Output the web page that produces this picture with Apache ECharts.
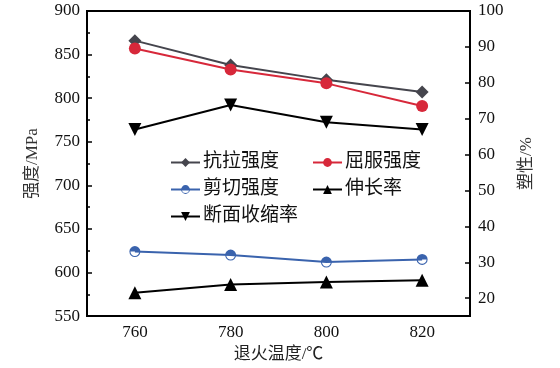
<!DOCTYPE html>
<html><head><meta charset="utf-8">
<script src="https://cdn.jsdelivr.net/npm/echarts@6/dist/echarts.min.js"></script>
<style>html,body{margin:0;padding:0;background:#fff}#c{width:560px;height:368px}</style>
</head><body><div id="c"></div>
<script>
const temps = [760, 780, 800, 820];
const xTicks = [760, 780, 800, 820];
const tensile = [866, 838, 821, 807];
const yieldS = [857, 833, 817, 791];
const shear = [624, 620, 612, 615];
const elong = [21.5, 23.8, 24.5, 25.0];
const reduction = [67, 73.8, 69, 67];
const rightTicks = [20, 30, 40, 50, 60, 70, 80, 90, 100];

const pairs = a => temps.map((t, i) => [t, a[i]]);
const font = '"Liberation Serif","Noto Sans CJK SC",serif';
const halfCircle = 'path://M0,10A10,10 0 1,1 20,10A10,10 0 1,1 0,10Z M2,10A8,8 0 1,0 18,10A8,8 0 1,0 2,10Z M2,10A8,8 0 0,1 18,10Z';

const mk = (name, data, color, symbol, size, yAxisIndex) => ({
  name, type: 'line', data: pairs(data), yAxisIndex,
  symbol, symbolSize: size, symbolKeepAspect: true,
  lineStyle: { color, width: 2 }, itemStyle: { color, borderWidth: 0 },
  emphasis: { disabled: true }, animation: false
});

const chart = echarts.init(document.getElementById('c'));
chart.setOption({
  animation: false,
  grid: { left: 87, right: 90, top: 11, bottom: 51, show: true, borderColor: '#000', borderWidth: 2 },
  xAxis: {
    type: 'value', min: 750, max: 830,
    name: '退火温度/℃', nameLocation: 'middle', nameGap: 27,
    nameTextStyle: { fontFamily: font, fontSize: 17, color: '#222' },
    axisLine: { lineStyle: { color: '#000', width: 2 } },
    axisTick: { show: false },
    axisLabel: { customValues: xTicks, fontFamily: font, fontSize: 17, color: '#111', margin: 8 },
    splitLine: { show: false }
  },
  yAxis: [{
    type: 'value', min: 550, max: 900, interval: 50, position: 'left',
    name: '强度/MPa', nameLocation: 'middle', nameGap: 46, nameRotate: 90,
    nameTextStyle: { fontFamily: font, fontSize: 17, color: '#333' },
    axisLine: { show: true, lineStyle: { color: '#000', width: 2 } },
    axisTick: { show: true, inside: true, length: 5, lineStyle: { color: '#000', width: 1.5 } },
    minorTick: { show: true, splitNumber: 2, length: 3, lineStyle: { color: '#000', width: 1.5 } },
    axisLabel: { fontFamily: font, fontSize: 17, color: '#111', margin: 7 },
    splitLine: { show: false }
  }, {
    type: 'value', min: 15, max: 100, position: 'right',
    name: '塑性/%', nameLocation: 'middle', nameGap: 48, nameRotate: 90,
    nameTextStyle: { fontFamily: font, fontSize: 17, color: '#333' },
    axisLine: { show: true, lineStyle: { color: '#000', width: 2 } },
    axisTick: { show: true, inside: true, length: 5, customValues: rightTicks.slice(0, -1), lineStyle: { color: '#000', width: 1.5 } },
    axisLabel: { customValues: rightTicks, fontFamily: font, fontSize: 17, color: '#111', margin: 8 },
    splitLine: { show: false }
  }],
  legend: [{
    data: ['抗拉强度', '剪切强度', '断面收缩率'], orient: 'vertical', left: 165, top: 148,
    itemWidth: 29, itemHeight: 11, itemGap: 8,
    textStyle: { fontFamily: font, fontSize: 19, color: '#111', padding: [0, 0, 0, -2] }
  }, {
    data: ['屈服强度', '伸长率'], orient: 'vertical', left: 307, top: 148,
    itemWidth: 29, itemHeight: 11, itemGap: 8,
    textStyle: { fontFamily: font, fontSize: 19, color: '#111', padding: [0, 0, 0, -2] }
  }],
  series: [
    mk('抗拉强度', tensile, '#45454d', 'diamond', 13, 0),
    mk('屈服强度', yieldS, '#d7283a', 'circle', 12, 0),
    mk('剪切强度', shear, '#3a63ad', halfCircle, 11, 0),
    mk('伸长率', elong, '#000', 'triangle', 13, 1),
    Object.assign(mk('断面收缩率', reduction, '#000', 'triangle', 13, 1), { symbolRotate: 180 })
  ]
});
</script></body></html>
